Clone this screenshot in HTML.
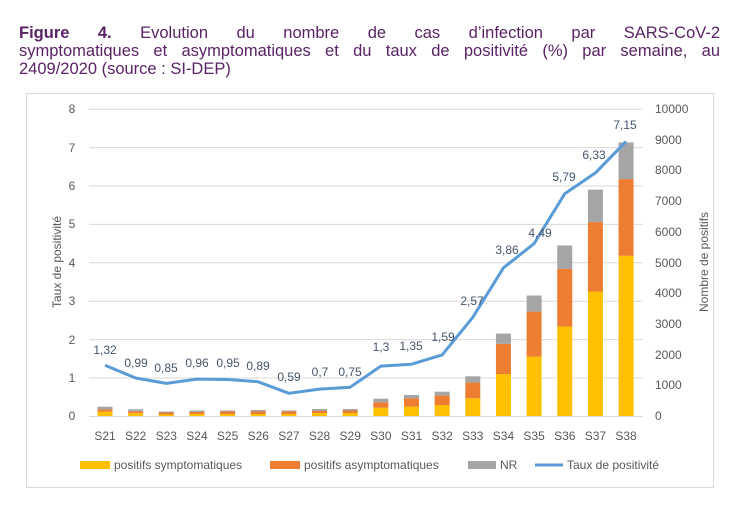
<!DOCTYPE html>
<html><head><meta charset="utf-8"><style>
body{margin:0;background:#fff;width:730px;height:516px;overflow:hidden;font-family:"Liberation Sans",sans-serif}
.t{position:absolute;left:19px;width:701px;color:#5a2365;font-size:16.5px;line-height:18px;text-align:justify;text-align-last:justify;white-space:nowrap}
.t2{position:absolute;left:19px;top:60px;color:#5a2365;font-size:16.5px;line-height:18px}
</style></head><body>
<div class="t" style="top:24px"><b>Figure 4.</b> Evolution du nombre de cas d’infection par SARS-CoV-2</div>
<div class="t" style="top:42px">symptomatiques et asymptomatiques et du taux de positivité (%) par semaine, au</div>
<div class="t2">2409/2020 (source : SI-DEP)</div>
<svg width="730" height="516" style="position:absolute;left:0;top:0" font-family="Liberation Sans, sans-serif">
<rect x="26.5" y="93.5" width="687" height="394" fill="none" stroke="#d9d9d9"/>
<g stroke="#d9d9d9" stroke-width="1">
<line x1="89" x2="643" y1="416.5" y2="416.5"/><line x1="89" x2="643" y1="378" y2="378"/><line x1="89" x2="643" y1="339.6" y2="339.6"/><line x1="89" x2="643" y1="301.2" y2="301.2"/><line x1="89" x2="643" y1="262.8" y2="262.8"/><line x1="89" x2="643" y1="224.4" y2="224.4"/><line x1="89" x2="643" y1="186" y2="186"/><line x1="89" x2="643" y1="147.6" y2="147.6"/><line x1="89" x2="643" y1="109.2" y2="109.2"/>
</g>
<g fill="#595959" font-size="12" text-anchor="middle">
<text x="72" y="420">0</text><text x="72" y="382">1</text><text x="72" y="344">2</text><text x="72" y="305">3</text><text x="72" y="267">4</text><text x="72" y="228">5</text><text x="72" y="190">6</text><text x="72" y="152">7</text><text x="72" y="113">8</text>
</g>
<g fill="#595959" font-size="12" text-anchor="start">
<text x="655" y="420">0</text><text x="655" y="389">1000</text><text x="655" y="359">2000</text><text x="655" y="328">3000</text><text x="655" y="297">4000</text><text x="655" y="267">5000</text><text x="655" y="236">6000</text><text x="655" y="205">7000</text><text x="655" y="174">8000</text><text x="655" y="144">9000</text><text x="655" y="113">10000</text>
</g>
<text transform="translate(61,262) rotate(-90)" fill="#595959" font-size="12" text-anchor="middle">Taux de positivité</text>
<text transform="translate(708,262) rotate(-90)" fill="#595959" font-size="12" text-anchor="middle">Nombre de positifs</text>
<g fill="#ffc000">
<rect x="97.5" y="411.7" width="15" height="4.3"/><rect x="128.15" y="413.3" width="15" height="2.7"/><rect x="158.8" y="414.5" width="15" height="1.5"/><rect x="189.45" y="414" width="15" height="2"/><rect x="220.1" y="414" width="15" height="2"/><rect x="250.75" y="414" width="15" height="2"/><rect x="281.4" y="414" width="15" height="2"/><rect x="312.05" y="413" width="15" height="3"/><rect x="342.7" y="413" width="15" height="3"/><rect x="373.35" y="407.7" width="15" height="8.3"/><rect x="404" y="406.7" width="15" height="9.3"/><rect x="434.65" y="405" width="15" height="11"/><rect x="465.3" y="398.3" width="15" height="17.7"/><rect x="495.95" y="374" width="15" height="42"/><rect x="526.6" y="356.6" width="15" height="59.4"/><rect x="557.25" y="326.6" width="15" height="89.4"/><rect x="587.9" y="291.5" width="15" height="124.5"/><rect x="618.55" y="255.8" width="15" height="160.2"/>
</g>
<g fill="#ed7d31">
<rect x="97.5" y="409.3" width="15" height="2.4"/><rect x="128.15" y="411.2" width="15" height="2.1"/><rect x="158.8" y="412.5" width="15" height="2"/><rect x="189.45" y="412" width="15" height="2"/><rect x="220.1" y="411.5" width="15" height="2.5"/><rect x="250.75" y="411.5" width="15" height="2.5"/><rect x="281.4" y="411.5" width="15" height="2.5"/><rect x="312.05" y="411" width="15" height="2"/><rect x="342.7" y="410.5" width="15" height="2.5"/><rect x="373.35" y="402.3" width="15" height="5.4"/><rect x="404" y="398.3" width="15" height="8.4"/><rect x="434.65" y="395.6" width="15" height="9.4"/><rect x="465.3" y="382.6" width="15" height="15.7"/><rect x="495.95" y="343.9" width="15" height="30.1"/><rect x="526.6" y="311.6" width="15" height="45"/><rect x="557.25" y="268.9" width="15" height="57.7"/><rect x="587.9" y="222.1" width="15" height="69.4"/><rect x="618.55" y="179.1" width="15" height="76.7"/>
</g>
<g fill="#a5a5a5">
<rect x="97.5" y="406.7" width="15" height="2.6"/><rect x="128.15" y="409.3" width="15" height="1.9"/><rect x="158.8" y="411.5" width="15" height="1"/><rect x="189.45" y="410.5" width="15" height="1.5"/><rect x="220.1" y="410.5" width="15" height="1"/><rect x="250.75" y="410" width="15" height="1.5"/><rect x="281.4" y="410.5" width="15" height="1"/><rect x="312.05" y="409" width="15" height="2"/><rect x="342.7" y="409" width="15" height="1.5"/><rect x="373.35" y="398.7" width="15" height="3.6"/><rect x="404" y="395" width="15" height="3.3"/><rect x="434.65" y="391.7" width="15" height="3.9"/><rect x="465.3" y="376.3" width="15" height="6.3"/><rect x="495.95" y="333.6" width="15" height="10.3"/><rect x="526.6" y="295.5" width="15" height="16.1"/><rect x="557.25" y="245.5" width="15" height="23.4"/><rect x="587.9" y="189.7" width="15" height="32.4"/><rect x="618.55" y="142.4" width="15" height="36.7"/>
</g>
<g fill="#595959" font-size="12" text-anchor="middle">
<text x="105" y="440">S21</text><text x="135.65" y="440">S22</text><text x="166.3" y="440">S23</text><text x="196.95" y="440">S24</text><text x="227.6" y="440">S25</text><text x="258.25" y="440">S26</text><text x="288.9" y="440">S27</text><text x="319.55" y="440">S28</text><text x="350.2" y="440">S29</text><text x="380.85" y="440">S30</text><text x="411.5" y="440">S31</text><text x="442.15" y="440">S32</text><text x="472.8" y="440">S33</text><text x="503.45" y="440">S34</text><text x="534.1" y="440">S35</text><text x="564.75" y="440">S36</text><text x="595.4" y="440">S37</text><text x="626.05" y="440">S38</text>
</g>
<polyline fill="none" stroke="#5b9bd5" stroke-width="3" stroke-linejoin="round" points="105,365.3 135.65,378 166.3,383.4 197,379.1 227.6,379.5 258.25,381.8 288.9,393.3 319.55,389.1 350.2,387.2 380.85,366.1 411.5,364.2 442.15,354.9 472.8,317.3 503.45,267.8 534.1,243.6 564.75,193.7 595.4,172.9 626.05,141.4"/>
<g fill="#44546a" font-size="12" text-anchor="middle">
<text x="105" y="354">1,32</text><text x="136" y="367">0,99</text><text x="166" y="372">0,85</text><text x="197" y="367">0,96</text><text x="228" y="367">0,95</text><text x="258" y="370">0,89</text><text x="289" y="381">0,59</text><text x="320" y="376">0,7</text><text x="350" y="376">0,75</text><text x="381" y="351">1,3</text><text x="411" y="350">1,35</text><text x="443" y="341">1,59</text><text x="472" y="305">2,57</text><text x="507" y="254">3,86</text><text x="540" y="237">4,49</text><text x="564" y="181">5,79</text><text x="594" y="159">6,33</text><text x="625" y="129">7,15</text>
</g>
<rect x="80" y="461" width="30" height="8" fill="#ffc000"/><text x="114" y="469" font-size="12" fill="#595959">positifs symptomatiques</text>
<rect x="270" y="461" width="30" height="8" fill="#ed7d31"/><text x="304" y="469" font-size="12" fill="#595959">positifs asymptomatiques</text>
<rect x="468" y="461" width="28" height="8" fill="#a5a5a5"/><text x="500" y="469" font-size="12" fill="#595959">NR</text>
<line x1="535" x2="563" y1="465" y2="465" stroke="#5b9bd5" stroke-width="3"/><text x="567" y="469" font-size="12" fill="#595959">Taux de positivité</text>
</svg>
</body></html>
